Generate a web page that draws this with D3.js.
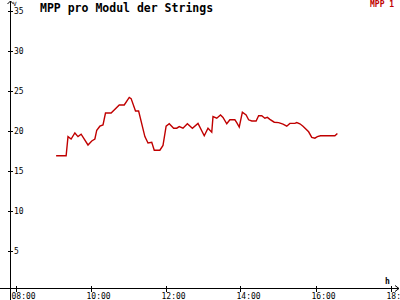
<!DOCTYPE html>
<html>
<head>
<meta charset="utf-8">
<script src="https://cdn.jsdelivr.net/npm/d3@7"></script>
<style>
  body { margin: 0; background: #fff; }
  svg text { font-family: "DejaVu Sans Mono", monospace; }
</style>
</head>
<body>
<div id="vis"></div>
<script>
// MPP per module, one series
var times = ["09:05","09:21","09:24","09:29","09:35","09:40","09:45","09:56","10:02","10:07",
             "10:10","10:15","10:20","10:24","10:33","10:46","10:54","11:02","11:05","11:12",
             "11:17","11:27","11:32","11:38","11:42","11:51","11:56","12:01","12:06","12:13",
             "12:18","12:22","12:28","12:35","12:43","12:52","13:02","13:08","13:14","13:16",
             "13:22","13:28","13:32","13:38","13:43","13:51","13:54","13:58","14:03","14:09",
             "14:13","14:18","14:25","14:29","14:34","14:39","14:43","14:47","14:54","15:01",
             "15:08","15:14","15:19","15:27","15:30","15:35","15:40","15:49","15:54","15:59",
             "16:03","16:08","16:31","16:35"];
var mpp1 = [16.9,16.9,19.3,19.0,19.75,19.3,19.6,18.25,18.75,19.0,
            20.1,20.6,20.75,22.25,22.25,23.25,23.25,24.2,24.05,22.5,
            22.5,19.3,18.5,18.6,17.6,17.6,18.2,20.6,20.9,20.35,
            20.35,20.55,20.35,20.9,20.35,20.95,19.4,20.35,19.85,21.8,
            21.6,22.0,21.7,20.9,21.4,21.4,21.05,20.5,22.35,22.0,
            21.4,21.25,21.25,21.9,21.9,21.6,21.7,21.45,21.1,21.05,
            20.85,20.6,20.95,20.95,21.05,20.9,20.6,19.9,19.2,19.1,
            19.3,19.4,19.4,19.7];
var xTicks = [8, 10, 12, 14, 16, 18];
var yTicks = [5, 10, 15, 20, 25, 30, 35];
var seriesName = "MPP 1";
var title = "MPP pro Modul der Strings";

var width = 400, height = 300,
    red = "#c00000";

function toHours(s) {
  var p = s.split(":");
  return +p[0] + (+p[1]) / 60;
}
function fmt(h) {
  return (h < 10 ? "0" : "") + h + ":00";
}

var svg = d3.select("#vis").append("svg")
    .attr("width", width)
    .attr("height", height);

var x = d3.scaleLinear().domain([8, 18]).range([15.5, 390.5]);
var y = d3.scaleLinear().domain([0, 35]).range([291, 11]);

var axisX = 10.5, axisY = 288.5;

var axes = svg.append("g")
    .attr("stroke", "#000")
    .attr("shape-rendering", "crispEdges");

// y axis line, runs to the bottom edge
axes.append("line")
    .attr("x1", axisX).attr("x2", axisX)
    .attr("y1", 1).attr("y2", height);
// arrowhead on top
axes.append("path")
    .attr("d", "M7.5,4L" + axisX + ",1L13.5,4")
    .attr("fill", "none")
    .attr("shape-rendering", "auto");

// x axis line
axes.append("line")
    .attr("x1", 0).attr("x2", 399)
    .attr("y1", axisY).attr("y2", axisY);
axes.append("path")
    .attr("d", "M395,285.5L399,288.5L395,291.5")
    .attr("fill", "none")
    .attr("shape-rendering", "auto");

// y ticks
axes.selectAll(".ytick")
    .data(yTicks)
  .enter().append("line")
    .attr("class", "ytick")
    .attr("x1", 8).attr("x2", 13)
    .attr("y1", function(d) { return Math.round(y(d)) + 0.5; })
    .attr("y2", function(d) { return Math.round(y(d)) + 0.5; });

svg.selectAll(".ylab")
    .data(yTicks)
  .enter().append("text")
    .attr("class", "ylab")
    .attr("x", 14)
    .attr("y", function(d) { return y(d) + 3; })
    .attr("font-size", 8)
    .attr("fill", "#000")
    .text(function(d) { return d; });

// x ticks
axes.selectAll(".xtick")
    .data(xTicks)
  .enter().append("line")
    .attr("class", "xtick")
    .attr("x1", function(d) { return Math.round(x(d)) + 0.5; })
    .attr("x2", function(d) { return Math.round(x(d)) + 0.5; })
    .attr("y1", 286).attr("y2", 292);

// last label is cut by the right edge, as in the original
svg.selectAll(".xlab")
    .data(xTicks)
  .enter().append("text")
    .attr("class", "xlab")
    .attr("x", function(d) { return x(d) - 4; })
    .attr("y", 299)
    .attr("font-size", 8)
    .attr("fill", "#000")
    .text(fmt);

// axis units
svg.append("text")
    .attr("x", 13).attr("y", 6)
    .attr("font-size", 6)
    .text("V");
svg.append("text")
    .attr("x", 385).attr("y", 284)
    .attr("font-size", 8)
    .attr("font-weight", "bold")
    .text("h");

// title
svg.append("text")
    .attr("x", 40).attr("y", 12)
    .attr("font-size", 11.5)
    .attr("font-weight", "bold")
    .attr("fill", "#000")
    .text(title);

// legend
svg.append("text")
    .attr("x", 370).attr("y", 7)
    .attr("font-size", 8)
    .attr("font-weight", "bold")
    .attr("fill", red)
    .text(seriesName);

// the series
var data = times.map(function(t, i) { return { t: toHours(t), v: mpp1[i] }; });

var line = d3.line()
    .x(function(d) { return x(d.t); })
    .y(function(d) { return y(d.v); });

svg.append("path")
    .datum(data)
    .attr("fill", "none")
    .attr("stroke", red)
    .attr("stroke-width", 1.4)
    .attr("d", line);
</script>
</body>
</html>
